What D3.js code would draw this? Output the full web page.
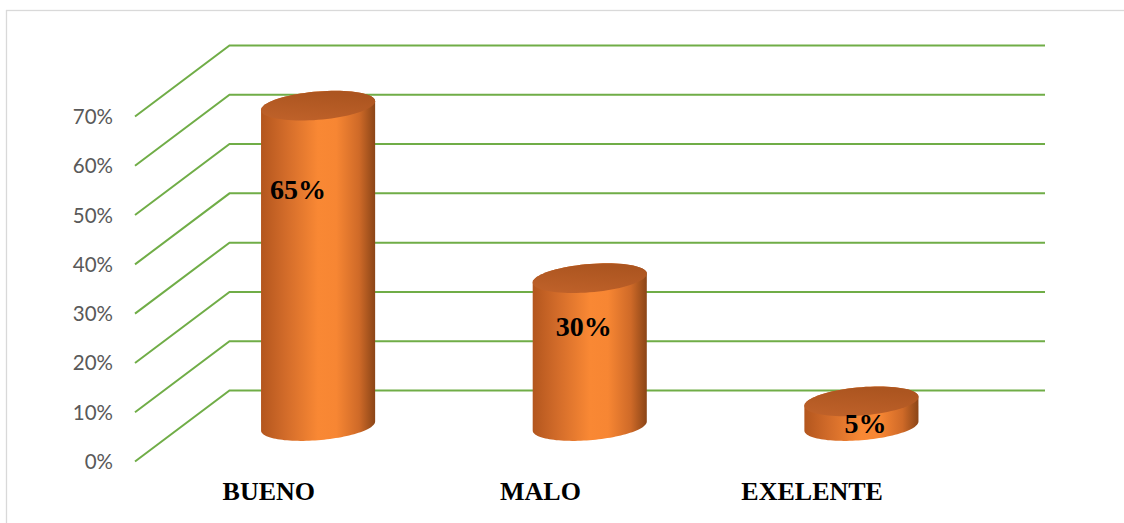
<!DOCTYPE html>
<html>
<head>
<meta charset="utf-8">
<script src="https://cdn.jsdelivr.net/npm/d3@7"></script>
<style>
  html, body { margin: 0; padding: 0; background: #fff; }
  svg { display: block; }
</style>
</head>
<body>
<svg id="chart" width="1124" height="523"></svg>
<script>
// ---- data ----
const categories = ["BUENO", "MALO", "EXELENTE"];
const values = [65, 30, 5];
const dataLabels = ["65%", "30%", "5%"];
const tickValues = [0, 10, 20, 30, 40, 50, 60, 70];
const tickLabels = ["0%", "10%", "20%", "30%", "40%", "50%", "60%", "70%"];

// ---- layout ----
const W = 1124, H = 523;
const svg = d3.select("#chart");
const depthX = 94.5, depthY = -71;   // 3D depth offset (front -> back)
const backRight = 1045;

const x = d3.scaleBand().domain(categories).range([135, 950]).paddingInner(0).paddingOuter(0);
const y = d3.scaleLinear().domain([0, 70]).range([461.5, 116.5]);

svg.append("rect").attr("width", W).attr("height", H).attr("fill", "#fff");
// chart border
svg.append("rect").attr("x", 6.5).attr("y", 10.5).attr("width", W + 20).attr("height", H + 20)
  .attr("fill", "none").attr("stroke", "#d9d9d9").attr("stroke-width", 1.3);

// gridlines (diagonal floor/side + back wall)
const grid = svg.append("g");
tickValues.forEach(t => {
  const x0 = x.range()[0], y0 = y(t);
  grid.append("path")
    .attr("d", d3.line()([[x0, y0], [x0 + depthX, y0 + depthY], [backRight, y0 + depthY]]))
    .attr("fill", "none").attr("stroke", "#70ad47").attr("stroke-width", 2);
});

// y tick labels
svg.append("g").selectAll("text").data(tickValues).join("text")
  .attr("x", 113).attr("y", d => y(d) + 7.5)
  .attr("text-anchor", "end")
  .attr("font-family", "Lato, 'Open Sans', sans-serif")
  .attr("font-size", 20.5).attr("fill", "#595959")
  .text((d, i) => tickLabels[i]);

// gradients
const defs = svg.append("defs");
const sideGrad = defs.append("linearGradient").attr("id", "sideGrad").attr("x1", 0).attr("x2", 1).attr("y1", 0).attr("y2", 0);
[[0, "#b3561e"], [0.2, "#d06a29"], [0.5, "#f98834"], [0.66, "#f78633"], [0.86, "#cf6a28"], [1, "#8b4517"]]
  .forEach(([o, c]) => sideGrad.append("stop").attr("offset", o).attr("stop-color", c));
const topGrad = defs.append("linearGradient").attr("id", "topGrad").attr("x1", 0).attr("x2", 0.3).attr("y1", 1).attr("y2", 0);
[[0, "#c0622a"], [1, "#ac5520"]]
  .forEach(([o, c]) => topGrad.append("stop").attr("offset", o).attr("stop-color", c));

// cylinders
const R = x.bandwidth() * 0.21;
const r = 14.2, k = -4.5;
function ellipsePts(cx, cy, t0, t1, n) {
  const pts = [];
  for (let i = 0; i <= n; i++) {
    const t = t0 + (t1 - t0) * i / n;
    pts.push([cx + R * Math.cos(t), cy + r * Math.sin(t) + k * Math.cos(t)]);
  }
  return pts;
}
const bars = svg.append("g");
categories.forEach((c, i) => {
  const v = values[i];
  const cx = x(c) + x.bandwidth() / 2 + depthX / 2;
  const cyBot = y(0) + depthY / 2;
  const cyTop = y(v) + depthY / 2;
  // side body
  const pts = [];
  pts.push(...ellipsePts(cx, cyTop, Math.PI, 2 * Math.PI, 40)); // back arc of top (left -> right)
  pts.push(...ellipsePts(cx, cyBot, 0, Math.PI, 60));          // front arc of bottom (right -> left)
  bars.append("path").attr("d", d3.line()(pts) + "Z").attr("fill", "url(#sideGrad)");
  // top face
  bars.append("path").attr("d", d3.line()(ellipsePts(cx, cyTop, 0, 2 * Math.PI, 80)) + "Z")
    .attr("fill", "url(#topGrad)");
  // data label
  svg.append("text")
    .attr("x", cx + 6 - 0.4 * v)
    .attr("y", y(0.79 * v) - 9)
    .attr("text-anchor", "middle")
    .attr("font-family", "'Liberation Serif', 'Times New Roman', serif")
    .attr("font-weight", "bold").attr("font-size", 28).attr("fill", "#000")
    .text(dataLabels[i]);
});

// category labels
svg.append("g").selectAll("text").data(categories).join("text")
  .attr("x", d => x(d) + x.bandwidth() / 2 - 2)
  .attr("y", 499.5)
  .attr("text-anchor", "middle")
  .attr("font-family", "'Liberation Serif', 'Times New Roman', serif")
  .attr("font-weight", "bold").attr("font-size", 26).attr("fill", "#000")
  .text(d => d);
</script>
</body>
</html>
